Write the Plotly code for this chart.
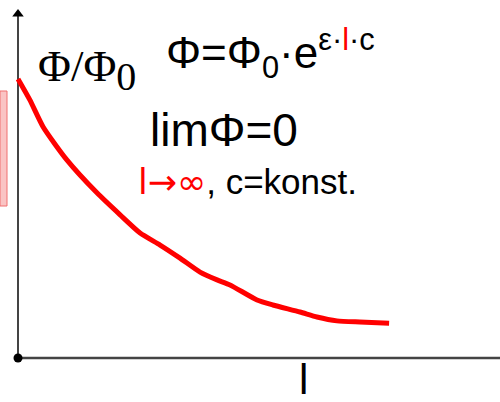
import plotly.graph_objects as go

W, H = 500, 402
# pixel position of the origin and pixel size of one unit on each axis
X0_PX, Y0_PX = 18, 358
L_PX = 37.0
PHI_PX = 279.0

# decay curve Φ/Φ0 over path length l
l_vals = [0, 0.32, 0.68, 1.32, 2.14, 2.76, 3.30, 3.84, 4.38, 4.92, 5.38,
          5.73, 6.46, 6.89, 7.62, 8.08, 8.62, 9.24, 10.03]
phi_vals = [1.0, 0.925, 0.828, 0.710, 0.591, 0.513, 0.448, 0.405, 0.358,
            0.308, 0.280, 0.262, 0.208, 0.190, 0.165, 0.147, 0.133, 0.129, 0.125]

x_min, x_max = -X0_PX / L_PX, (W - X0_PX) / L_PX
y_min, y_max = -(H - Y0_PX) / PHI_PX, Y0_PX / PHI_PX
y_arrow = (Y0_PX - 14) / PHI_PX


def px(x, y):
    """page pixel -> paper coordinates"""
    return x / W, 1 - y / H


fig = go.Figure()

# axes
fig.add_shape(type="line", x0=0, y0=0, x1=x_max, y1=0,
              line=dict(color="#444444", width=2.5), layer="below")
fig.add_shape(type="line", x0=0, y0=0, x1=0, y1=y_arrow,
              line=dict(color="#444444", width=2), layer="below")
fig.add_trace(go.Scatter(x=[0], y=[y_arrow], mode="markers",
                         marker=dict(symbol="triangle-up", size=10, color="black"),
                         hoverinfo="skip", showlegend=False))
fig.add_trace(go.Scatter(x=[0], y=[0], mode="markers",
                         marker=dict(symbol="circle", size=9, color="black"),
                         hoverinfo="skip", showlegend=False))

# curve
fig.add_trace(go.Scatter(x=l_vals, y=phi_vals, mode="lines",
                         line=dict(color="#ff0000", width=5, shape="spline", smoothing=0.6),
                         hoverinfo="skip", showlegend=False))

# pink marker strip at the left edge
ax0, ay0 = px(0, 206)
ax1, ay1 = px(7, 91)
fig.add_shape(type="rect", xref="paper", yref="paper", x0=ax0, y0=ay0, x1=ax1, y1=ay1,
              fillcolor="#fac4c4", line=dict(color="#f07070", width=1))

sans = "Liberation Sans, Arial, sans-serif"
serif = "Liberation Serif, Times New Roman, serif"


def label(text, x, y, size, family=sans, color="black", xanchor="left"):
    ax, ay = px(x, y)
    fig.add_annotation(text=text, x=ax, y=ay, xref="paper", yref="paper",
                       xanchor=xanchor, yanchor="middle", showarrow=False,
                       font=dict(family=family, size=size, color=color))


label("Φ/Φ<sub><span style='font-size:40px'>0</span></sub>", 36, 70, 45, family=serif)
label("Φ=Φ<sub>0</sub>·e<sup>ε·<span style='color:#ff0000'>l</span>·c</sup>", 164, 53, 44)
label("limΦ=0", 148, 130, 46)
label("<span style='color:#ff0000;font-family:DejaVu Sans'>l→∞</span>, c=konst.", 136, 182, 35)
label("l", 303, 379, 42, xanchor="center")

fig.update_layout(
    width=W, height=H,
    margin=dict(l=0, r=0, t=0, b=0),
    paper_bgcolor="white", plot_bgcolor="white",
    xaxis=dict(range=[x_min, x_max], visible=False, fixedrange=True),
    yaxis=dict(range=[y_min, y_max], visible=False, fixedrange=True),
)

fig.write_html("out.html")
